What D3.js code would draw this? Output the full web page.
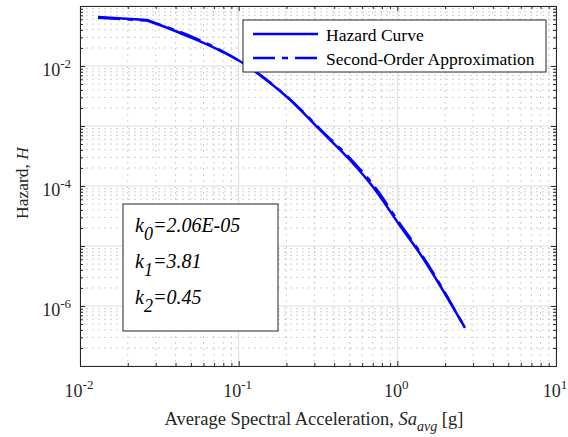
<!DOCTYPE html>
<html>
<head>
<meta charset="utf-8">
<script src="https://cdn.jsdelivr.net/npm/d3@7"></script>
<style>
  body { margin: 0; background: #fff; }
</style>
</head>
<body>
<div class="canva"></div>
<script>
// hazard curve (Sa in g, H)
var hazardSa = [0.013, 0.0264, 0.0493, 0.0796, 0.1064, 0.15, 0.2105, 0.262, 0.3256, 0.503, 0.703, 1.07, 1.33, 2.67];
var hazardH  = [0.0656, 0.0585, 0.0304, 0.0171, 0.0112, 0.0058, 0.00275, 0.00155, 8.6e-4, 2.71e-4, 9.6e-5, 1.95e-5, 8.8e-6, 4.3e-7];
// second-order approximation
var approxSa = [0.013, 0.0264, 0.0493, 0.0796, 0.1064, 0.15, 0.2105, 0.262, 0.3256, 0.503, 0.703, 1.07, 1.33, 2.67];
var approxH  = [0.064, 0.0572, 0.0318, 0.0174, 0.0112, 0.0059, 0.00278, 0.0016, 8.9e-4, 2.9e-4, 1.05e-4, 2.1e-5, 9.4e-6, 4.3e-7];

var xTicks = [1e-2, 1e-1, 1e0, 1e1];
var xTickExp = ["-2", "-1", "0", "1"];
var yTicks = [1e-6, 1e-4, 1e-2];
var yTickExp = ["-6", "-4", "-2"];
var seriesNames = ["Hazard Curve", "Second-Order Approximation"];
var kLabels = [["0", "=2.06E-05"], ["1", "=3.81"], ["2", "=0.45"]];

var FONT = "'Liberation Serif', 'Times New Roman', Times, serif";
var DASHDOT = "22,7,6,7";
var W = 568, H = 437;
var margin = {top: 6, right: 12, bottom: 71, left: 80};
var width = W - margin.left - margin.right,
    height = H - margin.top - margin.bottom;

var svg = d3.select(".canva").append("svg")
  .attr("width", W).attr("height", H)
  .attr("font-family", FONT);
var g = svg.append("g")
  .attr("transform", "translate(" + margin.left + "," + margin.top + ")");

var x = d3.scaleLog().domain([1e-2, 1e1]).range([0, width]);
var y = d3.scaleLog().domain([1e-7, 1e-1]).range([height, 0]);

// minor / major values
var xMinor = [], yMinor = [];
for (var e = -2; e < 1; e++) for (var m = 2; m <= 9; m++) xMinor.push(m * Math.pow(10, e));
for (var e = -7; e < -1; e++) for (var m = 2; m <= 9; m++) yMinor.push(m * Math.pow(10, e));
var xMajor = [1e-2, 1e-1, 1e0, 1e1];
var yMajor = [1e-7, 1e-6, 1e-5, 1e-4, 1e-3, 1e-2, 1e-1];

// minor grid (dotted)
g.append("g").selectAll("line").data(xMinor).enter().append("line")
  .attr("x1", d => x(d)).attr("x2", d => x(d)).attr("y1", 0).attr("y2", height)
  .attr("stroke", "#c4c4c4").attr("stroke-width", 0.8).attr("stroke-dasharray", "2,4");
g.append("g").selectAll("line").data(yMinor).enter().append("line")
  .attr("y1", d => y(d)).attr("y2", d => y(d)).attr("x1", 0).attr("x2", width)
  .attr("stroke", "#c4c4c4").attr("stroke-width", 0.8).attr("stroke-dasharray", "2,4");
// major grid
g.append("g").selectAll("line").data(xMajor).enter().append("line")
  .attr("x1", d => x(d)).attr("x2", d => x(d)).attr("y1", 0).attr("y2", height)
  .attr("stroke", "#dcdcdc").attr("stroke-width", 1);
g.append("g").selectAll("line").data(yMajor).enter().append("line")
  .attr("y1", d => y(d)).attr("y2", d => y(d)).attr("x1", 0).attr("x2", width)
  .attr("stroke", "#dcdcdc").attr("stroke-width", 1);

// axes, ticks pointing inwards on all sides
function tickAxis(axis, vals, size) {
  return axis.tickValues(vals).tickSize(size).tickFormat("");
}
[[xMajor, 5], [xMinor, 3]].forEach(function(t) {
  g.append("g").attr("transform", "translate(0," + height + ")").call(tickAxis(d3.axisTop(x), t[0], t[1]));
  g.append("g").call(tickAxis(d3.axisBottom(x), t[0], t[1]));
});
[[yMajor, 5], [yMinor, 3]].forEach(function(t) {
  g.append("g").call(tickAxis(d3.axisRight(y), t[0], t[1]));
  g.append("g").attr("transform", "translate(" + width + ",0)").call(tickAxis(d3.axisLeft(y), t[0], t[1]));
});
g.selectAll(".domain").attr("stroke", "#262626").attr("stroke-width", 1);
g.selectAll(".tick line").attr("stroke", "#262626");

// tick labels
xTicks.forEach(function(v, i) {
  var t = g.append("text").attr("x", x(v) - 1).attr("y", height + 31)
    .attr("text-anchor", "middle").attr("fill", "#262626").style("font-size", "18px");
  t.append("tspan").text("10");
  t.append("tspan").attr("dy", -8).style("font-size", "13px").text(xTickExp[i]);
});
yTicks.forEach(function(v, i) {
  var t = g.append("text").attr("x", -9).attr("y", y(v) + 10)
    .attr("text-anchor", "end").attr("fill", "#262626").style("font-size", "18px");
  t.append("tspan").text("10");
  t.append("tspan").attr("dy", -8).style("font-size", "13px").text(yTickExp[i]);
});

// axis titles
var xl = g.append("text").attr("x", width / 2 - 4).attr("y", height + 59)
  .attr("text-anchor", "middle").attr("fill", "#262626").style("font-size", "18.5px");
xl.append("tspan").text("Average Spectral Acceleration, ");
xl.append("tspan").style("font-style", "italic").text("Sa");
xl.append("tspan").attr("dy", 6).style("font-style", "italic").style("font-size", "14px").text("avg");
xl.append("tspan").attr("dy", -6).text(" [g]");

var yl = svg.append("text")
  .attr("transform", "translate(28,183) rotate(-90)")
  .attr("text-anchor", "middle").attr("fill", "#262626").style("font-size", "17.5px");
yl.append("tspan").text("Hazard, ");
yl.append("tspan").style("font-style", "italic").text("H");

// curves: straight first segment (sharp bend), smooth afterwards
var hazard = hazardSa.map((d, i) => [d, hazardH[i]]);
var approx = approxSa.map((d, i) => [d, approxH[i]]);
var straight = d3.line().x(d => x(d[0])).y(d => y(d[1]));
var smooth = d3.line().x(d => x(d[0])).y(d => y(d[1])).curve(d3.curveMonotoneX);
function curvePath(pts) {
  return straight(pts.slice(0, 2)) + smooth(pts.slice(1)).replace(/^M[^A-Z]*/, "");
}

g.append("path").attr("d", curvePath(hazard))
  .attr("fill", "none").attr("stroke", "#0000ff").attr("stroke-width", 2.5)
  .attr("stroke-linejoin", "round");
g.append("path").attr("d", curvePath(approx))
  .attr("fill", "none").attr("stroke", "#0000ff").attr("stroke-width", 2.5)
  .attr("stroke-dasharray", DASHDOT);

// legend
var lg = svg.append("g").attr("transform", "translate(243,20)");
lg.append("rect").attr("width", 303).attr("height", 52)
  .attr("fill", "#fff").attr("stroke", "#262626").attr("stroke-width", 1);
seriesNames.forEach(function(name, i) {
  var yy = 14 + i * 24;
  lg.append("line").attr("x1", 10).attr("x2", 75).attr("y1", yy).attr("y2", yy)
    .attr("stroke", "#0000ff").attr("stroke-width", 2.5)
    .attr("stroke-dasharray", i ? DASHDOT : null);
  lg.append("text").attr("x", 83).attr("y", yy + 7).attr("fill", "#000")
    .style("font-size", "17.5px").text(name);
});

// coefficient box
var kb = svg.append("g").attr("transform", "translate(123,204)");
kb.append("rect").attr("width", 155).attr("height", 127)
  .attr("fill", "#fff").attr("stroke", "#262626").attr("stroke-width", 1);
kLabels.forEach(function(k, i) {
  var t = kb.append("text").attr("x", 12).attr("y", 28 + i * 36).attr("fill", "#000")
    .style("font-size", "20px").style("font-style", "italic");
  t.append("tspan").text("k");
  t.append("tspan").attr("dy", 8).style("font-size", "18px").text(k[0]);
  t.append("tspan").attr("dy", -8).text(k[1]);
});
</script>
</body>
</html>
